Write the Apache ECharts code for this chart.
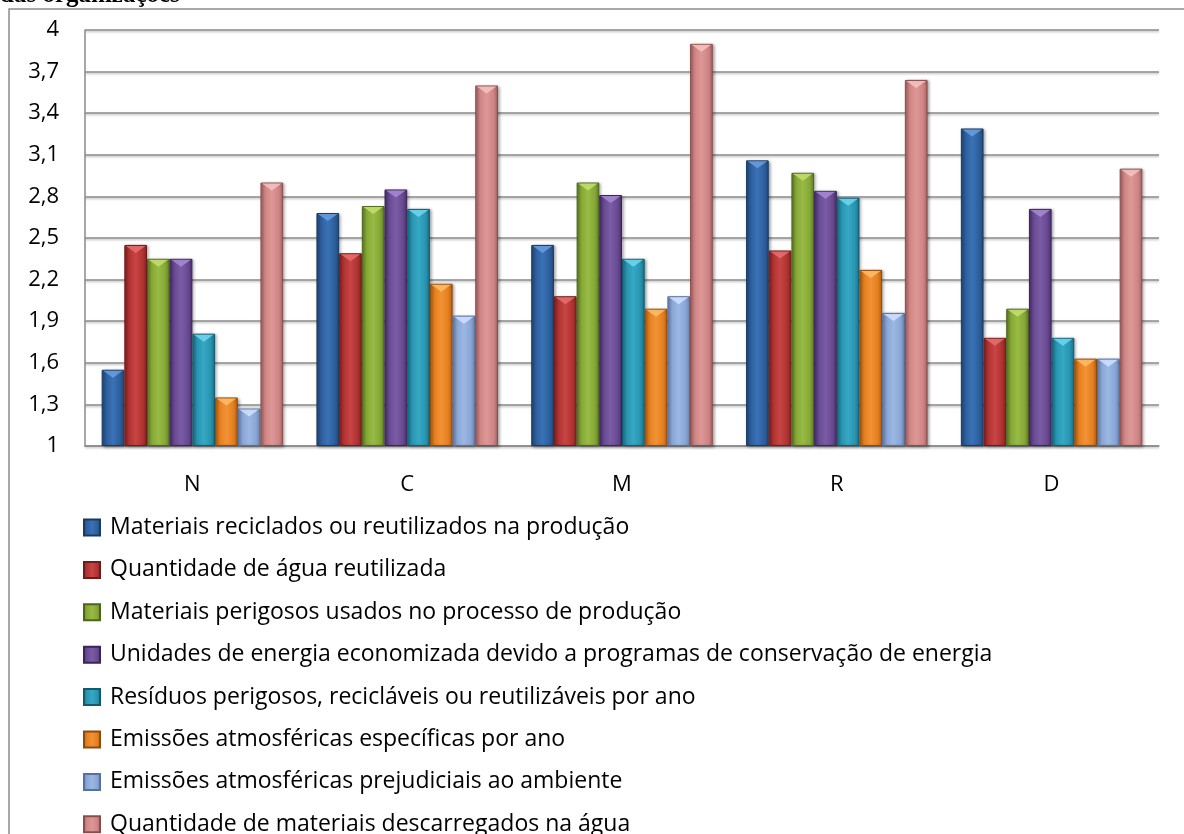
<!DOCTYPE html>
<html><head><meta charset="utf-8">
<script src="https://cdn.jsdelivr.net/npm/echarts@6/dist/echarts.min.js"></script>
<style>html,body{margin:0;padding:0;background:#fff;}#c{width:1184px;height:834px;}</style>
</head><body><div id="c"></div>
<script>
const categories = ['N', 'C', 'M', 'R', 'D'];
const seriesNames = [
  'Materiais reciclados ou reutilizados na produção',
  'Quantidade de água reutilizada',
  'Materiais perigosos usados no processo de produção',
  'Unidades de energia economizada devido a programas de conservação de energia',
  'Resíduos perigosos, recicláveis ou reutilizáveis por ano',
  'Emissões atmosféricas específicas por ano',
  'Emissões atmosféricas prejudiciais ao ambiente',
  'Quantidade de materiais descarregados na água'
];
const recicladosValues   = [1.55, 2.68, 2.45, 3.06, 3.29];
const aguaValues         = [2.45, 2.39, 2.08, 2.41, 1.78];
const perigososValues    = [2.35, 2.73, 2.90, 2.97, 1.99];
const energiaValues      = [2.35, 2.85, 2.81, 2.84, 2.71];
const residuosValues     = [1.81, 2.71, 2.35, 2.79, 1.78];
const emissoesEspValues  = [1.35, 2.17, 1.99, 2.27, 1.63];
const emissoesPrejValues = [1.27, 1.94, 2.08, 1.96, 1.63];
const descarregValues    = [2.90, 3.60, 3.90, 3.64, 3.00];
const yTickLabels = ['1','1,3','1,6','1,9','2,2','2,5','2,8','3,1','3,4','3,7','4'];
const axisBase = 1;

const allValues = [recicladosValues, aguaValues, perigososValues, energiaValues,
  residuosValues, emissoesEspValues, emissoesPrejValues, descarregValues];
// [dark edge, mid, light center, border, bevel]
const palette = [
  ['#214a7c', '#2d5f9c', '#3a72b8', '#1a3a63', '#6aa0e0'],
  ['#8a2222', '#b13333', '#c84543', '#6e1b1b', '#e87070'],
  ['#627f24', '#86a836', '#97bb45', '#4c651b', '#c4e070'],
  ['#4a3070', '#694a92', '#7a5ca6', '#3a2559', '#a98ad6'],
  ['#1c7088', '#2895b1', '#36a8c4', '#135a6d', '#70d8f0'],
  ['#b85e10', '#e5801f', '#f29236', '#8f4a0c', '#ffbe66'],
  ['#6a84b2', '#8aa6d6', '#9bb7e2', '#5670a0', '#d0e2ff'],
  ['#a86464', '#d08585', '#dc9896', '#8a4d4d', '#f6c4c2']
];
const GAP = 0.155;
function grad(p){
  return new echarts.graphic.LinearGradient(0,0,1,0,[
    {offset:0,color:p[0]},{offset:0.2,color:p[1]},{offset:0.5,color:p[2]},
    {offset:0.8,color:p[1]},{offset:1,color:p[0]}]);
}
const FONT = '"Open Sans", sans-serif';
const series = [];
seriesNames.forEach((n,i)=>{
  series.push({
    name:n, type:'bar', barGap:'0%', barCategoryGap:(GAP*100)+'%',
    data: allValues[i].map(v=>+(v-axisBase).toFixed(3)),
    itemStyle:{color:grad(palette[i]), borderColor:palette[i][3], borderWidth:1,
      shadowColor:'rgba(0,0,0,0.35)', shadowBlur:3, shadowOffsetX:1.5, shadowOffsetY:1},
    emphasis:{disabled:true}
  });
});
seriesNames.forEach((n,i)=>{
  series.push({
    type:'custom', silent:true, z:5,
    data: allValues[i].map((v,j)=>[j, +(v-axisBase).toFixed(3)]),
    renderItem:(params, api)=>{
      const c = api.coord([api.value(0), api.value(1)]);
      const band = api.size([1,0])[0];
      const bw = band*(1-GAP)/8;
      const x0 = c[0] - band*(1-GAP)/2 + i*bw;
      const y = c[1];
      return {type:'polygon', shape:{points:[[x0+1.5,y+1],[x0+bw-1.5,y+1],[x0+bw/2,y+8]]},
        style:{fill:palette[i][4], opacity:0.85}};
    }
  });
});
const chart = echarts.init(document.getElementById('c'), null, {renderer:'canvas'});
chart.setOption({
  animation:false,
  backgroundColor:'#fff',
  color: palette.map(p=>p[1]),
  graphic:[
    {type:'rect', shape:{x:9, y:9, width:1300, height:1000},
     style:{fill:'none', stroke:'#8c8c8c', lineWidth:1.5}, z:-10},
    {type:'text', x:0, y:8, style:{text:'das organizações', font:'bold 25px "Liberation Serif", serif',
     fill:'#000', textVerticalAlign:'bottom'}}
  ],
  grid:{left:85, right:25, top:30, bottom:388, containLabel:false},
  legend:{
    orient:'vertical', left:83, top:516, height:330, padding:0,
    itemWidth:16, itemHeight:16, itemGap:19.4,
    icon:'rect', selectedMode:false,
    textStyle:{fontFamily:FONT, fontSize:23, color:'#000', lineHeight:23, padding:[0,0,0,5]},
    data: seriesNames
  },
  xAxis:{type:'category', data:categories,
    axisLine:{lineStyle:{color:'#8a8a8a', width:1.5}}, axisTick:{show:false},
    axisLabel:{fontFamily:FONT, fontSize:22, color:'#000', margin:28}},
  yAxis:{type:'value', min:0, max:3, interval:0.3,
    axisLine:{show:true, lineStyle:{color:'#8a8a8a', width:1.5}}, axisTick:{show:false},
    splitLine:{lineStyle:{color:'#8a8a8a', width:1.5, shadowColor:'rgba(0,0,0,0.25)', shadowBlur:2, shadowOffsetY:1.5}},
    axisLabel:{fontFamily:FONT, fontSize:22, color:'#000', margin:26,
      formatter:(v)=>yTickLabels[Math.round(v/0.3)]}},
  series
});
</script></body></html>
